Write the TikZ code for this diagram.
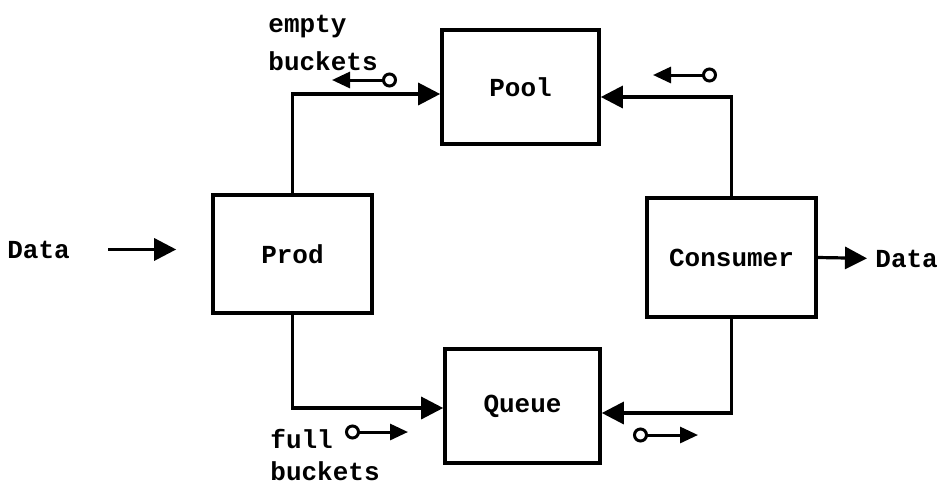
\documentclass[tikz,border=0pt]{standalone}
\usepackage{fontspec}
\setmonofont{Liberation Mono}
\usepackage{tikz}
\usetikzlibrary{arrows.meta}

\begin{document}
\begin{tikzpicture}[x=0.5pt,y=-0.5pt,
		font=\ttfamily\bfseries\fontsize{13}{16}\selectfont,
		box/.style={draw,line width=1.8pt,inner sep=0pt},
		txt/.style={inner sep=0pt},
		flow/.style={line width=1.6pt,-{Triangle[length=11pt,width=11pt]}},
		token/.style={line width=1.5pt,{Circle[open,length=7.5pt,width=7.5pt]}-{Triangle[length=9pt,width=8pt]}}]
			\useasboundingbox (0,0) rectangle (941,483);
			% the four processes
			\node[box,minimum width=78.5pt,minimum height=57pt] (pool) at (520.5,87) {Pool};
			\node[box,minimum width=79.5pt,minimum height=59pt] (prod) at (292.5,254) {Prod};
			\node[box,minimum width=84.5pt,minimum height=59.5pt] (consumer) at (731.5,257.5) {Consumer};
			\node[box,minimum width=77.5pt,minimum height=57pt] (queue) at (522.5,406) {Queue};
			% data in and out
			\node[txt,anchor=base west] (datain) at (7,258) {Data};
			\node[txt,anchor=base west] (dataout) at (875,267) {Data};
			\draw[flow,shorten <=19pt,shorten >=17.5pt] (datain.east) -- (datain.east -| prod.west);
			\draw[flow,shorten >=4pt] (consumer.east) -- (dataout.west);
			% buckets going round the ring
			\draw[flow] (prod.north) |- ([yshift=-3.5pt]pool.west);
			\draw[flow] (consumer.north) |- ([yshift=-5pt]pool.east);
			\draw[flow] (prod.south) |- ([yshift=-1pt]queue.west);
			\draw[flow] (consumer.south) |- ([yshift=-3.5pt]queue.east);
			% labels for the two kinds of bucket
			\node[txt,anchor=base west] (empty) at (268,32) {empty};
			\node[txt,anchor=base west] (emptyb) at (268,70) {buckets};
			\node[txt,anchor=base west] (full) at (270,448) {full};
			\node[txt,anchor=base west] (fullb) at (270,480) {buckets};
			% small direction marks beside the lines
			\coordinate (e1) at (397,80);
			\coordinate (e2) at (332,80);
			\coordinate (p1) at (717,75);
			\coordinate (p2) at (653,75);
			\coordinate (f1) at (345,432);
			\coordinate (f2) at (408,432);
			\coordinate (q1) at (633,435);
			\coordinate (q2) at (698,435);
			\draw[token] (e1) -- (e2);
			\draw[token] (p1) -- (p2);
			\draw[token] (f1) -- (f2);
			\draw[token] (q1) -- (q2);
		\end{tikzpicture}
\end{document}
